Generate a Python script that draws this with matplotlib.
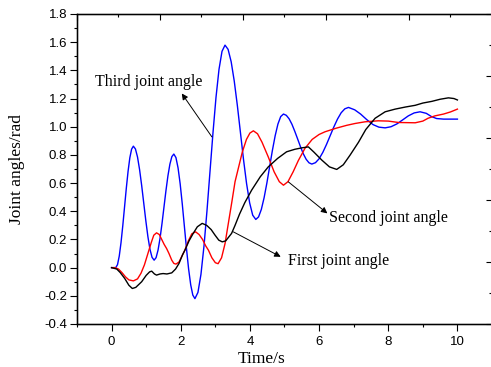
import matplotlib
matplotlib.use('Agg')
import matplotlib.pyplot as plt
from matplotlib.ticker import MultipleLocator

plt.rcParams['axes.unicode_minus'] = False

# third joint angle (blue)
t3 = [0.0, 0.12, 0.171, 0.222, 0.273, 0.324, 0.375, 0.426, 0.477, 0.528, 0.579, 0.63,
      0.69, 0.75, 0.81, 0.87, 0.93, 0.99, 1.05, 1.11, 1.17, 1.23,
      1.287, 1.344, 1.401, 1.458, 1.515, 1.572, 1.629, 1.686, 1.743, 1.80,
      1.861, 1.922, 1.983, 2.044, 2.105, 2.166, 2.227, 2.288, 2.349, 2.41,
      2.497, 2.584, 2.671, 2.758, 2.845, 2.932, 3.019, 3.106, 3.193, 3.28,
      3.369, 3.458, 3.547, 3.636, 3.725, 3.814, 3.903, 3.992, 4.081, 4.17,
      4.25, 4.33, 4.41, 4.49, 4.57, 4.65, 4.73, 4.81, 4.89, 4.97,
      5.052, 5.134, 5.216, 5.298, 5.38, 5.462, 5.544, 5.626, 5.708, 5.79,
      5.896, 6.002, 6.108, 6.214, 6.32, 6.426, 6.532, 6.638, 6.744, 6.85,
      7.03, 7.20, 7.38, 7.56, 7.73, 7.91,
      8.08, 8.25, 8.42, 8.58, 8.75, 8.92,
      9.10, 9.25, 9.40, 9.60, 10.0]
v3 = [0.0, 0.0, 0.021, 0.082, 0.178, 0.298, 0.431, 0.564, 0.684, 0.780, 0.841, 0.862,
      0.842, 0.785, 0.695, 0.583, 0.458, 0.333, 0.220, 0.130, 0.073, 0.053,
      0.071, 0.125, 0.208, 0.313, 0.430, 0.546, 0.651, 0.734, 0.788, 0.806,
      0.781, 0.708, 0.595, 0.452, 0.293, 0.135, -0.009, -0.122, -0.195, -0.22,
      -0.176, -0.048, 0.151, 0.402, 0.680, 0.957, 1.208, 1.407, 1.535, 1.579,
      1.549, 1.461, 1.324, 1.152, 0.961, 0.769, 0.597, 0.460, 0.372, 0.342,
      0.360, 0.413, 0.496, 0.600, 0.716, 0.832, 0.936, 1.019, 1.072, 1.09,
      1.081, 1.056, 1.017, 0.967, 0.913, 0.858, 0.808, 0.769, 0.744, 0.735,
      0.745, 0.773, 0.818, 0.874, 0.936, 0.998, 1.054, 1.099, 1.127, 1.137,
      1.12, 1.09, 1.05, 1.015, 0.997, 0.992,
      1.000, 1.020, 1.049, 1.077, 1.098, 1.106,
      1.095, 1.072, 1.058, 1.054, 1.054]

# second joint angle (red)
t2 = [0.0, 0.1, 0.2, 0.3, 0.4, 0.5, 0.63, 0.75, 0.85, 0.95, 1.05, 1.15, 1.22,
      1.30, 1.38, 1.45, 1.52, 1.59, 1.66, 1.74, 1.80, 1.86, 1.95, 2.05, 2.12,
      2.22, 2.32, 2.43, 2.53, 2.63, 2.72, 2.80, 2.90, 3.0, 3.08, 3.18, 3.28,
      3.38, 3.48, 3.57, 3.66, 3.78, 3.90, 4.0, 4.10, 4.22, 4.35, 4.53, 4.70,
      4.85, 4.97, 5.1, 5.25, 5.4, 5.59, 5.8, 6.0, 6.17, 6.5, 6.8, 7.04, 7.33,
      7.71, 8.0, 8.3, 8.78, 9.0, 9.15, 9.35, 9.6, 9.8, 10.0]
v2 = [0.0, 0.0, -0.01, -0.035, -0.065, -0.087, -0.094, -0.08, -0.04, 0.02,
      0.10, 0.18, 0.23, 0.247, 0.235, 0.20, 0.165, 0.136, 0.10, 0.053, 0.03,
      0.025, 0.04, 0.09, 0.124, 0.19, 0.24, 0.254, 0.235, 0.20, 0.155, 0.124,
      0.07, 0.035, 0.028, 0.07, 0.17, 0.32, 0.47, 0.61, 0.70, 0.82, 0.91,
      0.955, 0.971, 0.95, 0.89, 0.786, 0.68, 0.61, 0.585, 0.61, 0.68, 0.76,
      0.846, 0.91, 0.945, 0.964, 0.99, 1.01, 1.023, 1.035, 1.042, 1.04, 1.03,
      1.028, 1.04, 1.06, 1.077, 1.09, 1.105, 1.125]

# first joint angle (black)
t1 = [0.0, 0.15, 0.25, 0.38, 0.5, 0.6, 0.7, 0.87, 1.0, 1.1, 1.16, 1.24, 1.3,
      1.4, 1.49, 1.6, 1.74, 1.85, 1.95, 2.05, 2.12, 2.24, 2.36, 2.48, 2.62,
      2.75, 2.88, 2.99, 3.1, 3.2, 3.3, 3.47, 3.57, 3.7, 3.85, 4.05, 4.3, 4.53,
      4.8, 5.06, 5.3, 5.5, 5.69, 5.85, 6.08, 6.3, 6.51, 6.7, 6.9, 7.14, 7.35,
      7.62, 7.91, 8.2, 8.5, 8.78, 9.0, 9.26, 9.5, 9.74, 9.9, 10.0]
v1 = [0.0, -0.01, -0.035, -0.077, -0.125, -0.148, -0.14, -0.10, -0.055,
      -0.03, -0.025, -0.045, -0.053, -0.045, -0.042, -0.045, -0.037, -0.01,
      0.03, 0.09, 0.124, 0.19, 0.243, 0.29, 0.314, 0.30, 0.27, 0.231, 0.195,
      0.183, 0.19, 0.243, 0.30, 0.38, 0.46, 0.55, 0.645, 0.715, 0.775, 0.822,
      0.84, 0.85, 0.857, 0.82, 0.763, 0.715, 0.697, 0.73, 0.80, 0.89, 0.98,
      1.06, 1.106, 1.125, 1.14, 1.152, 1.168, 1.18, 1.195, 1.205, 1.2, 1.19]

# annotation texts and arrows (head, tail)
labels = ['Third joint angle', 'Second joint angle', 'First joint angle']
label_xy = [(1.06, 1.319), (8.0, 0.349), (6.56, 0.046)]
arrow_head = [(2.03, 1.236), (6.24, 0.385), (4.89, 0.077)]
arrow_tail = [(2.9, 0.928), (5.11, 0.609), (3.52, 0.254)]

fig = plt.figure(figsize=(4.91, 3.67), dpi=100)
ax = fig.add_axes([77/491, 1 - 324/367, 415/491, 310/367])

ax.plot(t3, v3, color='#0000ff', lw=1.0)
ax.plot(t2, v2, color='#ff0000', lw=1.0)
ax.plot(t1, v1, color='black', lw=1.0)

for s, xy, h, tl in zip(labels, label_xy, arrow_head, arrow_tail):
    ax.text(xy[0], xy[1], s, ha='center', va='center',
            family='Liberation Serif', fontsize=11.5)
    ax.annotate('', xy=h, xytext=tl,
                arrowprops=dict(arrowstyle='-|>', color='black', lw=0.7,
                                mutation_scale=9, shrinkA=0, shrinkB=0))

ax.set_xlim(-1, 11)
ax.set_ylim(-0.4, 1.8)
ax.xaxis.set_minor_locator(MultipleLocator(1))
ax.yaxis.set_major_locator(MultipleLocator(0.2))
ax.yaxis.set_minor_locator(MultipleLocator(0.1))
ax.set_xticks([0, 2, 4, 6, 8, 10])
ax.set_xticklabels(['0', '2', '4', '6', '8', '10'])
ax.yaxis.set_major_formatter(plt.FormatStrFormatter('%.1f'))
ax.tick_params(which='major', direction='out', length=5, width=0.8,
               labelsize=9.5, pad=2)
ax.tick_params(which='minor', direction='out', length=2.5, width=0.8)
for lab in ax.get_xticklabels() + ax.get_yticklabels():
    lab.set_family('Liberation Sans')
ax.tick_params(axis='x', pad=3.5)

ax.set_xlabel('Time/s', family='Liberation Serif', fontsize=12.5)
ax.set_ylabel('Joint angles/rad', family='Liberation Serif', fontsize=12.5)
ax.xaxis.set_label_coords((262 - 77) / 415, -27 / 310)
ax.yaxis.set_label_coords(-52 / 415, 0.5)

for sp in ax.spines.values():
    sp.set_linewidth(1.0)

# top and right axes with their own scale, ticks pointing in
axr = ax.twinx()
axr.set_ylim(0, 10)
axr.yaxis.set_major_locator(MultipleLocator(2))
axr.yaxis.set_minor_locator(MultipleLocator(1))
axr.tick_params(which='major', direction='in', length=4, width=0.8, labelright=False)
axr.tick_params(which='minor', direction='in', length=2, width=0.8)

axt = ax.twiny()
axt.set_xlim(0, 10)
axt.xaxis.set_major_locator(MultipleLocator(2))
axt.xaxis.set_minor_locator(MultipleLocator(1))
axt.tick_params(which='major', direction='in', length=4, width=0.8, labeltop=False)
axt.tick_params(which='minor', direction='in', length=2, width=0.8)

fig.savefig('out.png', dpi=100)
